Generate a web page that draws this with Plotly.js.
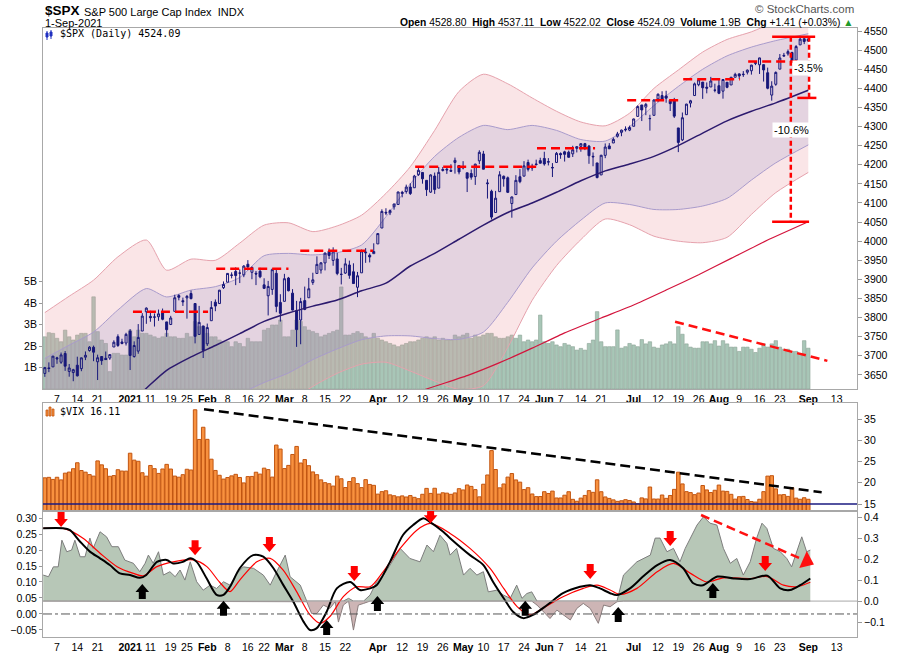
<!DOCTYPE html>
<html><head><meta charset="utf-8">
<script src="https://cdn.plot.ly/plotly-3.0.1.min.js"></script>
<style>html,body{margin:0;padding:0;background:#fff}#chart{width:900px;height:653px}</style>
</head><body><div id="chart"></div>
<script>
// ---------- DATA (first bar = 2-Dec-2020, index -3; 7-Dec-2020 = index 0) ----------
const open = [
3653.8,3668.3,3670.9,3694.7,3683.1,3706.0,3659.1,3656.1,3675.3,3666.4,3696.3,3713.7,3722.4,3684.3,3698.1,3693.4,3694.0,3723.0,3750.0,3736.2,3733.3,
3764.6,3698.0,3712.2,3764.7,3815.1,3803.1,3801.6,3802.2,3815.0,3788.7,3781.9,3816.2,3857.5,3844.2,3851.7,3863.0,3836.8,3755.8,3778.1,
3731.2,3791.8,3840.3,3836.7,3878.3,3892.6,3910.5,3920.8,3916.4,3911.7,3939.6,3918.5,3915.9,3921.2,3885.6,3857.1,3873.7,3915.8,3839.7,
3842.5,3903.6,3864.0,3818.5,3793.6,3844.4,3851.9,3892.0,3915.5,3924.5,3943.0,3973.6,3949.6,3953.5,3913.1,3916.5,3937.6,3919.9,3879.3,3917.1,3969.3,3963.3,3967.3,
3992.8,4034.4,4075.6,4074.3,4090.0,4096.1,4124.7,4130.1,4141.6,4139.8,4174.1,4179.8,4159.2,4128.4,4170.5,4138.8,4185.0,4188.3,4185.1,4206.1,4198.1,
4192.0,4179.0,4177.1,4169.1,4210.3,4228.3,4150.3,4130.6,4075.0,4129.6,4169.9,4165.9,4098.5,4122.0,4168.6,4170.2,4205.9,4191.6,4201.9,4210.8,
4216.5,4206.8,4191.4,4206.1,4229.3,4233.8,4233.0,4228.6,4242.9,4248.3,4255.3,4248.9,4220.4,4204.8,4173.4,4224.6,4249.3,4257.0,4274.5,4284.9,4293.2,4290.7,
4300.7,4326.6,4356.5,4351.0,4321.1,4329.4,4372.4,4381.1,4380.1,4369.0,4367.4,4296.4,4265.1,4331.1,4361.3,4381.2,4409.6,4416.4,4403.0,4403.6,4395.1,
4406.9,4392.7,4416.0,4408.9,4429.1,4437.8,4435.8,4442.2,4446.1,4464.8,4461.7,4462.1,4440.9,4382.4,4410.6,4450.3,4484.4,4490.5,4493.8,4474.1,4513.8,4529.8,
4528.8];
const high = [
3671.0,3682.7,3699.2,3697.4,3708.5,3712.4,3678.5,3665.9,3697.6,3695.3,3711.3,3725.1,3726.7,3702.9,3698.3,3711.2,3703.8,3740.5,3756.1,3744.6,3760.2,
3770.0,3737.8,3783.0,3811.6,3826.7,3817.9,3810.8,3821.0,3823.6,3788.7,3804.5,3859.8,3861.5,3852.3,3859.2,3870.9,3836.8,3830.5,3778.1,
3784.3,3843.1,3847.5,3872.4,3894.6,3915.8,3918.4,3931.5,3926.0,3937.2,3950.4,3933.6,3922.0,3930.4,3902.9,3896.0,3928.7,3925.0,3861.1,
3914.5,3906.4,3874.5,3843.7,3851.7,3881.1,3903.8,3917.4,3960.3,3945.0,3970.1,3981.0,3983.9,3969.6,3930.1,3955.3,3949.1,3942.1,3919.5,3978.2,3981.8,3968.0,3994.4,
4020.6,4083.4,4086.2,4083.1,4098.2,4129.5,4131.8,4148.0,4151.7,4173.5,4191.3,4180.8,4159.2,4175.0,4179.6,4194.2,4194.2,4193.4,4201.5,4218.8,4198.1,
4209.4,4179.0,4187.7,4202.7,4238.0,4236.4,4162.0,4134.7,4131.6,4183.1,4171.9,4169.2,4116.9,4172.8,4188.7,4209.5,4213.4,4202.6,4213.4,4218.4,
4234.1,4217.4,4204.4,4233.5,4232.3,4236.7,4237.1,4249.7,4248.4,4255.6,4257.2,4251.9,4232.3,4204.8,4226.2,4255.8,4256.6,4271.3,4286.1,4292.1,4300.5,4302.4,
4320.7,4355.4,4356.5,4361.9,4330.9,4371.6,4386.7,4392.4,4393.7,4369.0,4375.1,4296.4,4336.8,4359.7,4369.9,4415.2,4422.7,4416.4,4415.5,4430.0,4412.3,
4422.2,4423.8,4416.2,4429.8,4440.8,4439.4,4445.2,4449.4,4461.8,4468.4,4480.3,4462.1,4454.3,4418.6,4444.4,4489.9,4492.8,4501.7,4495.9,4513.3,4537.4,4531.4,
4537.1];
const low = [
3644.8,3657.2,3670.9,3678.9,3678.8,3660.5,3645.2,3633.4,3645.8,3659.6,3688.6,3710.9,3685.8,3636.5,3676.2,3689.3,3689.3,3723.0,3723.3,3730.2,3726.9,
3662.7,3695.1,3705.3,3764.7,3783.6,3789.0,3776.5,3791.5,3792.9,3749.6,3780.4,3816.2,3845.1,3830.4,3797.2,3847.8,3732.5,3755.8,3694.1,
3725.6,3791.8,3816.7,3836.7,3874.9,3892.6,3902.6,3884.9,3890.4,3905.8,3923.9,3900.4,3885.0,3903.1,3874.7,3805.6,3859.6,3814.0,3789.5,
3842.5,3868.6,3818.9,3723.3,3730.2,3819.3,3851.9,3885.7,3915.5,3915.2,3923.5,3953.4,3935.7,3910.9,3886.8,3914.2,3901.6,3888.9,3853.5,3917.1,3943.3,3944.4,3967.0,
3992.8,4034.4,4068.1,4068.3,4082.5,4095.5,4114.8,4124.4,4120.9,4139.8,4170.8,4150.5,4118.4,4126.4,4123.7,4138.8,4182.4,4176.2,4181.8,4176.8,4174.9,
4188.0,4128.6,4160.9,4147.3,4201.6,4188.1,4111.5,4056.9,4075.0,4129.6,4142.7,4126.0,4061.4,4122.0,4151.7,4170.2,4182.5,4184.1,4197.8,4203.6,
4197.6,4198.3,4167.9,4206.1,4215.7,4208.4,4218.7,4220.3,4232.3,4234.1,4238.4,4202.5,4196.1,4164.4,4173.4,4217.3,4241.4,4257.0,4271.2,4274.7,4287.0,4288.0,
4300.7,4326.6,4314.4,4329.8,4289.4,4329.4,4364.0,4366.9,4362.4,4340.7,4322.5,4233.1,4262.1,4331.1,4350.1,4381.2,4405.5,4372.5,4387.0,4403.6,4389.7,
4384.8,4373.0,4400.2,4408.9,4429.1,4424.7,4430.0,4436.4,4436.0,4460.8,4437.7,4417.8,4397.6,4367.7,4406.8,4450.3,4482.3,4485.7,4469.0,4474.1,4513.8,4515.8,
4522.0];
const close = [
3669.0,3666.7,3699.1,3692.0,3702.3,3672.8,3668.1,3663.5,3647.5,3694.6,3701.2,3722.5,3709.4,3694.9,3687.3,3690.0,3703.1,3735.4,3727.0,3732.0,3756.1,
3700.7,3726.9,3748.1,3803.8,3824.7,3799.6,3801.2,3809.8,3795.5,3768.3,3798.9,3851.9,3853.1,3841.5,3855.4,3849.6,3750.8,3787.4,3714.2,
3773.9,3826.3,3830.2,3871.7,3886.8,3915.6,3911.2,3909.9,3916.4,3934.8,3932.6,3931.3,3914.0,3906.7,3876.5,3881.4,3925.4,3829.3,3811.2,
3901.8,3870.3,3819.7,3768.5,3841.9,3821.4,3875.4,3898.8,3939.3,3943.3,3968.9,3962.7,3974.1,3915.5,3913.1,3940.6,3910.5,3889.1,3909.5,3974.5,3971.1,3958.6,3972.9,
4019.9,4077.9,4073.9,4080.0,4097.2,4128.8,4128.0,4141.6,4124.7,4170.4,4185.5,4163.3,4134.9,4173.4,4135.0,4180.2,4187.6,4186.7,4183.2,4211.5,4181.2,
4192.7,4164.7,4167.6,4201.6,4232.6,4188.4,4152.1,4063.0,4112.5,4173.9,4163.3,4127.8,4115.7,4159.1,4155.9,4197.1,4188.1,4196.0,4200.9,4204.1,
4202.0,4208.1,4192.9,4229.9,4226.5,4227.3,4219.6,4239.2,4247.4,4255.2,4246.6,4223.7,4221.9,4166.5,4224.8,4246.4,4241.8,4266.5,4280.7,4290.6,4291.8,4297.5,
4319.9,4352.3,4343.5,4358.1,4320.8,4369.6,4384.6,4369.2,4374.3,4360.0,4327.2,4258.5,4323.1,4358.7,4367.5,4411.8,4422.3,4401.5,4400.6,4419.2,4395.3,
4387.2,4423.2,4402.7,4429.1,4436.5,4432.4,4436.8,4447.7,4460.8,4468.0,4479.7,4448.1,4400.3,4405.8,4441.7,4479.5,4486.2,4496.2,4470.0,4509.4,4528.8,4522.7,
4524.1];
// volume, billions
const volume = [
2.43,2.62,2.59,2.36,2.2,2.74,2.43,2.28,2.51,2.59,2.59,2.2,4.29,2.67,2.28,2.12,0.81,1.66,1.66,1.58,1.58,
2.74,2.43,2.74,2.59,2.59,2.51,2.43,2.36,2.43,2.59,2.43,2.43,2.36,2.36,2.59,2.43,3.14,2.9,2.9,
2.59,2.43,2.43,2.28,2.2,2.2,1.97,2.2,2.12,1.97,2.36,2.2,2.2,2.2,2.74,2.82,2.98,2.98,3.21,
2.43,2.43,2.74,3.21,3.14,2.9,2.74,2.67,2.59,2.43,2.51,2.59,2.67,2.74,4.75,2.51,2.51,2.59,2.67,2.59,2.43,2.36,2.59,
2.36,2.28,2.2,2.12,2.05,1.97,2.05,2.12,2.2,2.2,2.28,2.36,2.43,2.36,2.43,2.28,2.36,2.28,2.28,2.51,2.43,
2.51,2.59,2.36,2.51,2.43,2.51,2.59,2.59,2.43,2.36,2.36,2.43,2.51,2.36,2.51,2.2,2.28,2.2,2.28,3.44,
2.2,2.12,2.2,2.05,1.97,2.12,2.05,1.97,1.81,1.89,1.81,2.12,2.28,3.6,2.2,1.97,1.97,1.97,2.75,1.9,1.97,2.12,
2.05,1.97,2.3,2.1,2.2,1.95,1.9,2.05,2.1,2.2,2.1,2.9,2.55,2.1,1.95,1.9,1.9,2.2,2.2,2.1,2.25,
2.0,2.25,2.1,1.95,1.95,1.75,1.95,1.95,1.85,1.7,1.9,2.1,1.95,2.1,2.25,1.95,1.85,1.85,1.75,1.75,1.65,2.25,
1.9];
const vix = [
21.17,21.28,20.79,21.30,20.68,22.27,22.52,23.31,24.72,22.89,22.50,21.93,21.57,25.16,24.23,23.31,21.53,21.70,23.08,22.77,22.75,
26.97,25.34,25.07,22.37,21.56,24.08,23.33,22.21,23.25,24.34,23.24,21.58,21.32,21.91,23.19,23.02,37.21,30.21,33.09,
30.24,25.56,22.91,21.77,20.87,21.24,21.63,21.99,21.25,19.97,21.46,21.50,22.49,22.05,23.45,23.11,21.34,28.89,27.95,
23.35,24.10,26.67,28.57,24.66,25.47,24.03,22.56,21.91,20.69,20.03,19.79,19.23,21.58,20.95,18.88,20.30,21.20,19.81,18.86,20.74,19.61,19.40,
17.33,17.91,18.12,17.16,16.95,16.69,16.91,16.65,16.99,16.57,16.25,17.29,18.68,17.50,18.71,17.33,17.64,17.56,17.28,17.61,18.61,
18.31,19.48,19.15,18.39,16.69,19.66,21.84,27.59,23.13,18.81,19.72,21.34,22.18,20.67,20.15,18.40,18.84,17.36,16.74,16.76,
17.90,17.48,18.04,16.42,16.42,17.07,17.89,16.10,15.65,16.39,17.02,18.15,17.75,20.70,17.89,16.66,16.32,15.97,15.62,15.76,16.02,15.83,
15.48,15.07,16.44,16.20,19.00,16.18,16.17,17.12,16.33,17.01,18.45,22.50,19.73,17.91,17.69,17.20,17.58,19.36,18.31,17.70,18.24,
19.46,18.04,17.97,17.28,16.15,16.72,16.79,16.06,15.59,15.45,16.12,17.91,21.57,21.67,18.56,17.15,17.22,16.79,18.84,16.39,16.11,16.48,
16.11];
const firstIndex = -3;

// x-axis ticks (trading-day index)
const tickIdx  = [0,5,10,18,23,28,32,37,42,47,51,56,61,66,71,79,85,90,95,100,105,110,115,120,124,129,134,142,148,153,158,163,168,173,178,185,192];
const tickText = ['7','14','21','<b>2021</b>','11','19','25','<b>Feb</b>','8','16','22','<b>Mar</b>','8','15','22','<b>Apr</b>','12','19','26','<b>May</b>','10','17','24','<b>Jun</b>','7','14','21','<b>Jul</b>','12','19','26','<b>Aug</b>','9','16','23','<b>Sep</b>','13'];

// bands / moving averages
const bandIdx     = [-3,3,9,15,22,27,33,39,45,51,57,63,69,75,81,87,93,99,105,111,117,123,129,135,141,147,153,159,165,171,177,185];
const pinkUpper   = [3813,3856,3898,3959,4003,3924,3953,3950,3995,4042,4048,4025,4040,4068,4125,4195,4290,4392,4437,4412,4375,4340,4312,4302,4335,4400,4448,4495,4528,4548,4575,4605];
const purpleUpper = [3693,3728,3762,3820,3876,3854,3872,3881,3905,3962,3968,3964,3970,3990,4064,4150,4222,4272,4303,4292,4303,4290,4266,4262,4300,4355,4405,4450,4485,4508,4525,4543];
const ma50        = [3455,3475,3492,3545,3615,3662,3697,3727,3758,3790,3812,3830,3846,3870,3890,3935,3968,4005,4042,4075,4100,4128,4158,4184,4202,4222,4250,4283,4315,4340,4362,4395];
const purpleLower = [3215,3220,3220,3265,3355,3470,3520,3570,3600,3630,3655,3690,3718,3742,3752,3752,3745,3743,3762,3840,3930,4000,4055,4100,4096,4083,4083,4092,4112,4160,4205,4252];
const pinkLower   = [3095,3092,3084,3125,3225,3374,3432,3491,3521,3550,3577,3620,3654,3678,3683,3660,3634,3612,3622,3722,3845,3936,4004,4058,4043,4013,4000,3996,4010,4070,4127,4180];
const ma200Idx = [55,70,85,91,101,109,117,125,134,142,150,158,166,175,185];
const ma200    = [3450,3520,3588,3613,3648,3682,3720,3760,3799,3833,3872,3912,3955,4003,4051];

// red dashed resistance levels
const resStart = [18.7,39.2,59.9,88.2,118.2,140.4,154.2,170.2];
const resEnd   = [37.2,57.0,77.8,119.0,132.5,153.9,168.2,182.3];
const resLevel = [3815,3928,3975,4195,4243,4369,4424,4470];
// solid measuring lines and vertical dashed ranges
const barStart = [176.1,182.3,176.1];
const barEnd   = [186.7,187.0,185.2];
const barLevel = [4535,4375,4051];
const vertIdx  = [180.7,185.2];
const vertTop  = [4535,4535];
const vertBot  = [4051,4375];
const pctText  = ['-3.5%','-10.6%'];
const pctIdx   = [185.0,180.8];
const pctLevel = [4454,4291];
// trend lines
const volTrendIdx = [152.2,189.7], volTrendVal = [3.13,1.31];
const vixTrendIdx = [36.2,188.3],  vixTrendVal = [37.35,17.75];
const vixRef = 15;

// lower panel: momentum area (right scale) and two smoothed lines (left scale)
const areaIdx = [-3.4,-2.1,-0.9,0.3,1.2,2.4,3.6,4.4,5.7,6.9,8.1,8.9,10.6,12.2,13.5,15.1,16.7,18.8,20.4,21.7,22.5,23.7,25,26.2,27.8,29.1,30.3,31.5,32.8,34.4,36,37.7,39.3,41,42.6,44.3,45.9,48.4,50.8,52.5,54.1,56.2,57.4,59.9,61.5,62.7,64,65.6,67.2,68.5,69.3,70.5,71.8,73,74.2,75.5,77.1,78.7,80.4,82,84.5,86.9,89.4,91.1,92.7,94.3,96,96.8,98.4,100.1,101.7,103.4,105,106.2,108.3,109.9,111.6,113.2,114.5,115.7,116.9,118.2,119.8,121.4,123.1,124.7,126.4,128,129.6,131.3,133.3,134.6,136.2,137.9,139.5,142.8,146.1,147.3,148.5,150.2,151.8,153.4,154.7,155.9,157.6,159.2,160.8,162.5,164.1,165.8,167.4,169,170.7,172.3,173.6,174.8,176.4,178.1,179.7,180.9,182.2,183.4,184.6,185.5];
const areaVal = [0.124,0.116,0.163,0.163,0.29,0.235,0.243,0.29,0.211,0.211,0.30,0.251,0.33,0.306,0.259,0.259,0.195,0.18,0.14,0.18,0.219,0.18,0.235,0.124,0.14,0.116,0.148,0.10,0.187,0.092,0.052,0.076,0.06,0.092,0.076,0.132,0.163,0.156,0.124,0.076,0.14,0.219,0.116,0.076,-0.003,-0.059,-0.059,-0.019,-0.035,-0.003,-0.10,-0.019,0.013,-0.138,-0.019,-0.011,0.029,0.092,0.124,0.171,0.251,0.203,0.187,0.267,0.235,0.314,0.275,0.219,0.251,0.124,0.156,0.124,0.14,0.044,0.052,0.029,0.013,0.076,0.013,0.036,0.044,-0.019,-0.051,-0.083,-0.043,-0.067,-0.09,-0.035,-0.011,-0.035,-0.106,-0.019,-0.027,-0.003,0.124,0.187,0.219,0.30,0.30,0.235,0.251,0.187,0.251,0.30,0.362,0.402,0.371,0.362,0.251,0.18,0.203,0.124,0.187,0.30,0.371,0.346,0.251,0.235,0.203,0.163,0.243,0.306,0.235,0.243];
const blackIdx = [-3.4,1.5,3.2,5.7,8.1,10.6,13,15.5,18,20.4,22,24.6,27,28.6,31,32.8,34.4,36.9,39.3,41,42.6,45,48.3,50.8,53.3,55.7,58.2,60.7,62.3,63.9,66.4,68.9,72.2,74.6,77.1,78.7,82,85.2,87.7,90.2,91.8,95.1,96.8,101.7,105,107.4,110,112.3,114.8,117.2,120.7,124.6,128.8,131.3,133.7,136.2,137.9,141.1,144.3,147.8,151,154.2,156.7,159.1,162.6,166.6,170.7,174.9,178.1,180.5,183,185.5];
const blackVal = [0.268,0.268,0.262,0.226,0.195,0.174,0.153,0.127,0.122,0.113,0.122,0.163,0.169,0.158,0.163,0.174,0.163,0.11,0.06,0.06,0.085,0.143,0.184,0.179,0.143,0.091,0.038,-0.024,-0.05,-0.045,0.007,0.08,0.10,0.075,0.08,0.09,0.163,0.247,0.278,0.299,0.288,0.257,0.237,0.184,0.153,0.10,0.049,0.007,-0.013,-0.003,0.028,0.065,0.085,0.09,0.08,0.065,0.059,0.08,0.117,0.153,0.169,0.143,0.096,0.09,0.117,0.111,0.109,0.12,0.08,0.075,0.09,0.111];
const redIdx = [-3.4,2,6.4,10.6,14.8,18.8,21.2,24.6,28.6,33.6,36.9,40,42.6,45,49.2,52.5,55.7,59,62.3,64.8,67.2,70.5,73.8,77.1,80.3,84.5,88.6,91.9,96.8,101.7,106.6,110,113.3,116.5,119.7,124.6,129.6,133,136.2,138.7,142.8,147.8,151.8,156,160,164,170.7,174.9,178.9,182.2,185.5];
const redVal = [0.268,0.266,0.237,0.19,0.148,0.127,0.119,0.148,0.163,0.169,0.148,0.10,0.07,0.106,0.163,0.174,0.137,0.07,-0.003,-0.029,-0.008,0.054,0.085,0.085,0.132,0.205,0.262,0.283,0.252,0.205,0.143,0.08,0.023,-0.003,0.018,0.054,0.08,0.09,0.075,0.061,0.08,0.132,0.158,0.127,0.10,0.113,0.111,0.117,0.09,0.085,0.099];
const downArrowIdx = [1,34,52.3,73.2,92,131.3,151,174.4];
const downArrowVal = [0.272,0.184,0.194,0.103,0.284,0.109,0.2125,0.134];
const upArrowIdx = [21,41,66.4,78.9,115.3,138.2,161.5];
const upArrowVal = [0.094,0.041,-0.019,0.056,0.041,0.022,0.097];
const lowTrendIdx = [158.6,183.0], lowTrendVal = [0.41,0.203];
const lowTrendHeadIdx = 184.6, lowTrendHeadVal = 0.19;

// ---------- BUILD ----------
const xi = close.map((_, i) => i + firstIndex);
const FONT = 'Liberation Sans, Arial, sans-serif';
const NAVY = '#17177a';
function segs(s, e, l) { const x = [], y = []; s.forEach((v, i) => { x.push(v, e[i], null); y.push(l[i], l[i], null); }); return {x, y}; }
function vsegs(xs, a, b) { const x = [], y = []; xs.forEach((v, i) => { x.push(v, v, null); y.push(a[i], b[i], null); }); return {x, y}; }
const rs = segs(resStart, resEnd, resLevel), bs = segs(barStart, barEnd, barLevel), vs = vsegs(vertIdx, vertTop, vertBot);

const traces = [
  {type:'bar', x:xi, y:volume, xaxis:'x', yaxis:'y', marker:{color:'#a8c6b7', line:{color:'#8ca396', width:0.6}}, hoverinfo:'skip'},
  {type:'scatter', mode:'lines', x:volTrendIdx, y:volTrendVal, xaxis:'x', yaxis:'y', line:{color:'#ff1010', width:2.5, dash:'9px,5px'}, hoverinfo:'skip'},
  {type:'scatter', mode:'lines', x:bandIdx, y:pinkLower, xaxis:'x', yaxis:'y2', line:{color:'#e6a2ad', width:1, shape:'spline', smoothing:0.7}, hoverinfo:'skip'},
  {type:'scatter', mode:'lines', x:bandIdx, y:pinkUpper, xaxis:'x', yaxis:'y2', fill:'tonexty', fillcolor:'rgba(235,150,160,0.25)', line:{color:'#e6a2ad', width:1, shape:'spline', smoothing:0.7}, hoverinfo:'skip'},
  {type:'scatter', mode:'lines', x:bandIdx, y:purpleLower, xaxis:'x', yaxis:'y2', line:{color:'#a99bcc', width:1, shape:'spline', smoothing:0.7}, hoverinfo:'skip'},
  {type:'scatter', mode:'lines', x:bandIdx, y:purpleUpper, xaxis:'x', yaxis:'y2', fill:'tonexty', fillcolor:'rgba(140,140,200,0.2)', line:{color:'#a99bcc', width:1, shape:'spline', smoothing:0.7}, hoverinfo:'skip'},
  {type:'scatter', mode:'lines', x:bandIdx, y:ma50, xaxis:'x', yaxis:'y3', line:{color:'#2c1a6e', width:1.5, shape:'spline', smoothing:0.7}, hoverinfo:'skip'},
  {type:'scatter', mode:'lines', x:ma200Idx, y:ma200, xaxis:'x', yaxis:'y3', line:{color:'#d3143c', width:1.2, shape:'spline', smoothing:0.5}, hoverinfo:'skip'},
  {type:'candlestick', x:xi, open:open, high:high, low:low, close:close, xaxis:'x', yaxis:'y3', whiskerwidth:0,
    increasing:{line:{color:NAVY, width:1}, fillcolor:'rgba(255,255,255,0)'},
    decreasing:{line:{color:NAVY, width:1}, fillcolor:NAVY}, hoverinfo:'skip'},
  {type:'scatter', mode:'lines', x:rs.x, y:rs.y, xaxis:'x', yaxis:'y3', line:{color:'#ff0000', width:2.5, dash:'9px,5px'}, hoverinfo:'skip'},
  {type:'scatter', mode:'lines', x:vs.x, y:vs.y, xaxis:'x', yaxis:'y3', line:{color:'#ff0000', width:2.5, dash:'5px,3px'}, hoverinfo:'skip'},
  {type:'scatter', mode:'lines', x:bs.x, y:bs.y, xaxis:'x', yaxis:'y3', line:{color:'#ff0000', width:2.5}, hoverinfo:'skip'},
  // VIX
  {type:'bar', x:xi, y:vix, xaxis:'x2', yaxis:'y4', marker:{color:'#f8913f', line:{color:'#c25510', width:1}}, hoverinfo:'skip'},
  {type:'scatter', mode:'lines', x:vixTrendIdx, y:vixTrendVal, xaxis:'x2', yaxis:'y4', line:{color:'#000', width:2.5, dash:'10px,5px'}, hoverinfo:'skip'},
  // lower panel
  {type:'scatter', mode:'lines', x:areaIdx, y:areaVal.map(v => Math.max(v, 0)), xaxis:'x3', yaxis:'y5', fill:'tozeroy', fillcolor:'#b7c7b7', line:{color:'#7d7d7d', width:1}, hoverinfo:'skip'},
  {type:'scatter', mode:'lines', x:areaIdx, y:areaVal.map(v => Math.min(v, 0)), xaxis:'x3', yaxis:'y5', fill:'tozeroy', fillcolor:'#cdb5b5', line:{color:'#8a7d7d', width:1}, hoverinfo:'skip'},
  {type:'scatter', mode:'lines', x:lowTrendIdx, y:lowTrendVal, xaxis:'x3', yaxis:'y5', line:{color:'#ff1010', width:2.5, dash:'9px,5px'}, hoverinfo:'skip'},
  {type:'scatter', mode:'markers', x:[lowTrendHeadIdx], y:[lowTrendHeadVal], xaxis:'x3', yaxis:'y5', marker:{symbol:'triangle-right', size:16, angle:24, color:'#ff1010'}, hoverinfo:'skip'},
  {type:'scatter', mode:'lines', x:redIdx, y:redVal, xaxis:'x3', yaxis:'y6', line:{color:'#ff0000', width:1.2, shape:'spline', smoothing:0.8}, hoverinfo:'skip'},
  {type:'scatter', mode:'lines', x:blackIdx, y:blackVal, xaxis:'x3', yaxis:'y6', line:{color:'#000', width:2, shape:'spline', smoothing:0.8}, hoverinfo:'skip'}
];

const XR = [-3.45, 197.0];
const tf = {family:FONT, size:10.5, color:'#000'};
const frame = {showline:true, mirror:true, linecolor:'#a8a8a8', linewidth:1, showgrid:false, zeroline:false};
const ax = (o) => Object.assign({}, frame, o);

const shapes = [
  {type:'line', xref:'x2 domain', x0:0, x1:1, yref:'y4', y0:vixRef, y1:vixRef, line:{color:'#1a1a80', width:1.5}},
  {type:'line', xref:'x3 domain', x0:0, x1:1, yref:'y5', y0:0, y1:0, line:{color:'#a8a8a8', width:1}},
  {type:'line', xref:'x3 domain', x0:0, x1:1, yref:'y6', y0:0, y1:0, line:{color:'#555', width:1, dash:'dashdot'}}
];
downArrowIdx.forEach((v, i) => shapes.push({type:'path', xref:'x3', yref:'y6', xsizemode:'pixel', ysizemode:'pixel', xanchor:v, yanchor:downArrowVal[i],
  path:'M -3.5 15 L 3.5 15 L 3.5 8 L 6.8 8 L 0 0 L -6.8 8 L -3.5 8 Z', fillcolor:'#ff0000', line:{width:0}}));
upArrowIdx.forEach((v, i) => shapes.push({type:'path', xref:'x3', yref:'y6', xsizemode:'pixel', ysizemode:'pixel', xanchor:v, yanchor:upArrowVal[i],
  path:'M -3.5 -15 L 3.5 -15 L 3.5 -8 L 6.8 -8 L 0 0 L -6.8 -8 L -3.5 -8 Z', fillcolor:'#000', line:{width:0}}));
// legend icons
shapes.push({type:'path', xref:'paper', yref:'paper', xsizemode:'pixel', ysizemode:'pixel', xanchor:0, yanchor:1,
  path:'M 4 -3 L 4 -12 M 8 -2 L 8 -11', line:{color:'#2030c0', width:1}});
shapes.push({type:'path', xref:'paper', yref:'paper', xsizemode:'pixel', ysizemode:'pixel', xanchor:0, yanchor:1,
  path:'M 3 -5 L 5 -5 L 5 -9 L 3 -9 Z M 7 -4 L 9 -4 L 9 -8 L 7 -8 Z', fillcolor:'#2030c0', line:{color:'#2030c0', width:1}});
shapes.push({type:'path', xref:'paper', yref:'paper', xsizemode:'pixel', ysizemode:'pixel', xanchor:0, yanchor:0.3842,
  path:'M 3 -13 L 3 -7 L 5 -7 L 5 -13 Z M 6 -13 L 6 -4 L 8 -4 L 8 -13 Z M 9 -13 L 9 -6 L 11 -6 L 11 -13 Z', fillcolor:'#f8913f', line:{color:'#c25510', width:0.8}});

const NB = '\u00a0';
const annotations = [
  {xref:'paper', yref:'paper', x:0, y:1.0285, xanchor:'left', yanchor:'middle', showarrow:false, text:'<b>$SPX</b>', font:{family:FONT, size:13.5, color:'#000'}},
  {xref:'paper', yref:'paper', x:0.0485, y:1.0265, xanchor:'left', yanchor:'middle', showarrow:false, text:'S&P 500 Large Cap Index'+NB+NB+'INDX', font:{family:FONT, size:11, color:'#000'}},
  {xref:'paper', yref:'paper', x:0, y:1.0085, xanchor:'left', yanchor:'middle', showarrow:false, text:'1-Sep-2021', font:{family:FONT, size:11, color:'#000'}},
  {xref:'paper', yref:'paper', x:0.9975, y:1.0095, xanchor:'right', yanchor:'middle', showarrow:false,
    text:'<b>Open</b> 4528.80'+NB+NB+'<b>High</b> 4537.11'+NB+NB+'<b>Low</b> 4522.02'+NB+NB+'<b>Close</b> 4524.09'+NB+NB+'<b>Volume</b> 1.9B'+NB+NB+'<b>Chg</b> +1.41 (+0.03%) <span style="color:#1f9a2a">▲</span>',
    font:{family:FONT, size:10.3, color:'#000'}},
  {xref:'paper', yref:'paper', x:0.999, y:1.031, xanchor:'right', yanchor:'middle', showarrow:false, text:'© StockCharts.com', font:{family:FONT, size:11.5, color:'#555'}},
  {xref:'paper', yref:'paper', x:0.0184, y:0.9903, xanchor:'left', yanchor:'middle', showarrow:false, text:'$SPX (Daily) 4524.09', font:{family:'DejaVu Sans Mono, monospace', size:10, color:'#000'}},
  {xref:'paper', yref:'paper', x:0.0184, y:0.3711, xanchor:'left', yanchor:'middle', showarrow:false, text:'$VIX 16.11', font:{family:'DejaVu Sans Mono, monospace', size:10, color:'#000'}}
];
pctText.forEach((t, i) => annotations.push({xref:'x', yref:'y3', x:pctIdx[i], y:pctLevel[i], showarrow:false, text:t, bgcolor:'#fff', borderpad:1, font:{family:FONT, size:11, color:'#000'}}));

const layout = {
  width:900, height:653, margin:{l:43, r:43, t:28, b:16}, paper_bgcolor:'#fff', plot_bgcolor:'#fff',
  showlegend:false, bargap:0.14, dragmode:false, font:{family:FONT, size:10.5, color:'#000'},
  xaxis: ax({domain:[0,1], anchor:'y', range:XR, tickmode:'array', tickvals:tickIdx, ticktext:tickText, ticks:'', tickfont:tf, rangeslider:{visible:false}}),
  xaxis2: ax({domain:[0,1], anchor:'y4', matches:'x', range:XR, showticklabels:false, ticks:'', tickmode:'array', tickvals:tickIdx}),
  xaxis3: ax({domain:[0,1], anchor:'y5', matches:'x', range:XR, tickmode:'array', tickvals:tickIdx, ticktext:tickText, ticks:'', tickfont:tf, rangeslider:{visible:false}}),
  yaxis: ax({domain:[0.4072,1], anchor:'x', side:'left', range:[0,16.8], tickmode:'array', tickvals:[1,2,3,4,5], ticktext:['1B','2B','3B','4B','5B'], ticks:'outside', ticklen:3, tickcolor:'#999', tickfont:tf}),
  yaxis2: {overlaying:'y', anchor:'x', side:'right', range:[3613,4558], tickmode:'array', tickvals:[3650,3700,3750,3800,3850,3900,3950,4000,4050,4100,4150,4200,4250,4300,4350,4400,4450,4500,4550], ticks:'outside', ticklen:4, tickcolor:'#999', tickfont:tf, showgrid:false, zeroline:false, showline:false},
  yaxis3: {overlaying:'y', anchor:'x', range:[3613,4558], visible:false, showgrid:false, zeroline:false},
  yaxis4: ax({domain:[0.2069,0.3842], anchor:'x2', side:'right', range:[13.35,38.8], tickmode:'array', tickvals:[15,20,25,30,35], ticks:'outside', ticklen:4, tickcolor:'#999', tickfont:tf}),
  yaxis5: ax({domain:[0,0.2069], anchor:'x3', side:'right', range:[-0.171,0.429], tickmode:'array', tickvals:[-0.1,0,0.1,0.2,0.3,0.4], tickformat:'.1f', ticks:'outside', ticklen:4, tickcolor:'#999', tickfont:tf}),
  yaxis6: {overlaying:'y5', anchor:'x3', side:'left', range:[-0.072,0.322], tickmode:'array', tickvals:[-0.05,0,0.05,0.1,0.15,0.2,0.25,0.3], tickformat:'.2f', ticks:'outside', ticklen:3, tickcolor:'#999', tickfont:tf, showgrid:false, zeroline:false, showline:false},
  shapes: shapes, annotations: annotations
};
Plotly.newPlot('chart', traces, layout, {staticPlot:true, displayModeBar:false});
</script></body></html>
